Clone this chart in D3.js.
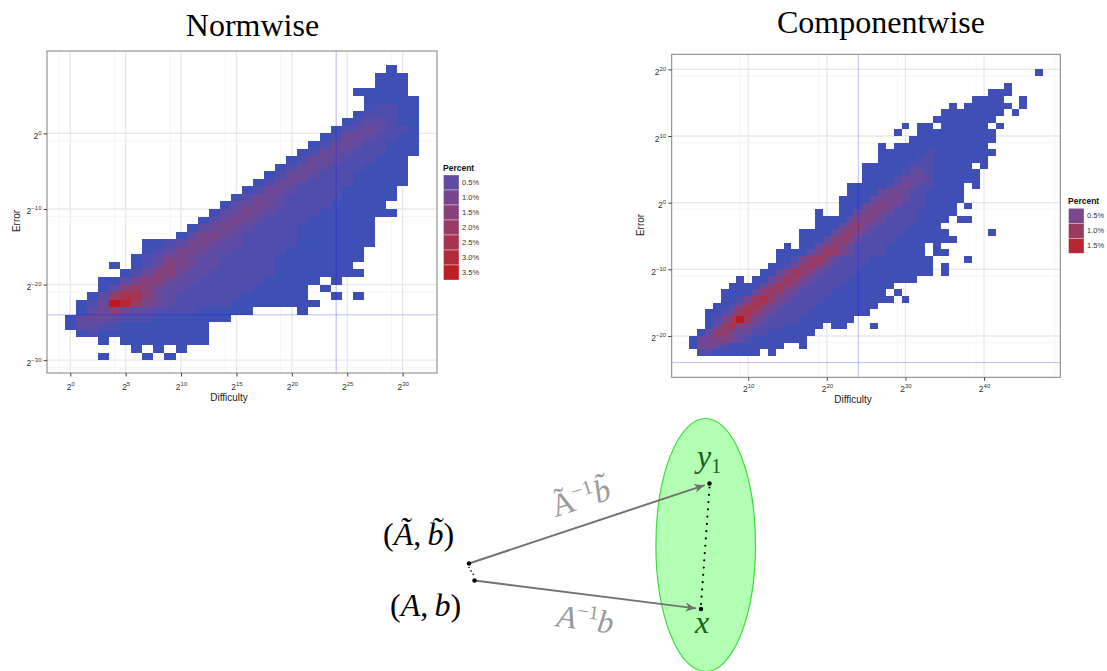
<!DOCTYPE html>
<html><head><meta charset="utf-8">
<script src="https://cdn.jsdelivr.net/npm/d3@7"></script>
<style>body{margin:0;background:#fff}svg{display:block}</style>
</head><body>
<svg id="c" width="1107" height="671"></svg>
<script>
// ---------- DATA (log2 units; each row: [y bin, first x bin, cell levels], '.' = empty) ----------
const normRows = [
 [8, 29, "0"],
 [7, 28, "000"],
 [6, 28, "000"],
 [5, 26, "00000"],
 [4, 27, "00000"],
 [3, 27, "01100"],
 [2, 26, "011100"],
 [1, 25, "0122100"],
 [0, 24, "01232110"],
 [-1, 23, "013321100"],
 [-2, 22, "0133211000"],
 [-3, 21, "01332111000"],
 [-4, 20, "01332111000"],
 [-5, 19, "013321110000"],
 [-6, 18, "0133211100000"],
 [-7, 17, "01332111100000"],
 [-8, 16, "01332111100000"],
 [-9, 15, "023321111100000"],
 [-10, 14, "023432111100000"],
 [-11, 13, "02343211110000000"],
 [-12, 12, "0234321111000000"],
 [-13, 11, "02343211110000000"],
 [-14, 10, "024432111110000000"],
 [-15, 7, "001244322111110000000"],
 [-16, 7, "01244322111110000000"],
 [-17, 6, "012443221111100000000"],
 [-18, 4, "0.01354322111110000000"],
 [-19, 5, "0135532211111100000000"],
 [-20, 3, "00245532211111100000.0"],
 [-21, 3, "0256532211111100000.0"],
 [-22, 2, "02677532111111000000..0.0"],
 [-23, 1, "0139864321111100000000"],
 [-24, 1, "0235322111100000....0"],
 [-25, 0, "023321110000000"],
 [-26, 0, "0221100000000"],
 [-27, 1, "010000000000"],
 [-28, 3, "0.00000000"],
 [-29, 6, "0.0.0"],
 [-30, 3, "0...0.0"]
];
const normLevelPct = [0.03, 0.22, 0.45, 0.7, 1.0, 1.4, 1.9, 2.5, 3.1, 3.7];
const normXTicks = [0, 5, 10, 15, 20, 25, 30];
const normYTicks = [0, -10, -20, -30];
const normXMinor = [-1, 4, 9, 14, 19, 24, 29];
const normYMinor = [-1, -11, -21, -31];
const normLegend = [0.5, 1.0, 1.5, 2.0, 2.5, 3.0, 3.5];

const compRows = [
 [19, 47, "0"],
 [17, 43, "0"],
 [16, 41, "000"],
 [15, 39, "0000..0"],
 [14, 36, "0.000000.0"],
 [13, 35, "00000000.0"],
 [12, 34, "00000000"],
 [11, 30, "0.00.000000.0"],
 [10, 29, "0..0000000000"],
 [9, 31, "00000000000"],
 [8, 27, "0.000000000000"],
 [7, 27, "000000100000000"],
 [6, 27, "00000110000000"],
 [5, 25, "00000011100000.0"],
 [4, 25, "000001221000000"],
 [3, 25, "000012221000000"],
 [2, 23, "000001232110000.0"],
 [1, 23, "000023321100000"],
 [0, 22, "0000233321100000"],
 [-1, 22, "000234321110000.0"],
 [-2, 19, "0..002343211100000"],
 [-3, 19, "00002443211110000.00"],
 [-4, 19, "0002453211110000"],
 [-5, 17, "0000245421111000000.....0"],
 [-6, 17, "00024542111100000000"],
 [-7, 15, "0.0024542111100000.0"],
 [-8, 14, "0000246532111100000.00"],
 [-9, 14, "00135642111100000000....0"],
 [-10, 13, "001356421111000000000.0"],
 [-11, 12, "0024653211110000000000.0"],
 [-12, 9, "0.002465321111000000000"],
 [-13, 8, "000024653211110000000"],
 [-14, 7, "000025653211110000000.0"],
 [-15, 7, "0013675321111000000000.0"],
 [-16, 6, "001367532111100000000"],
 [-17, 5, "001367532111100000000"],
 [-18, 5, "0136963211110000000"],
 [-19, 5, "026743211100000.00...0"],
 [-20, 4, "025532211000000"],
 [-21, 3, "023443210000000"],
 [-22, 3, "033210000000..0"],
 [-23, 4, "11000000.0"]
];
const compLevelPct = [0.02, 0.13, 0.28, 0.43, 0.6, 0.8, 1.0, 1.2, 1.45, 1.75];
const compXTicks = [10, 20, 30, 40];
const compYTicks = [20, 10, 0, -10, -20];
const compXMinor = [9, 19, 29, 39, 49];
const compYMinor = [19, 9, -1, -11, -21];
const compLegend = [0.5, 1.0, 1.5];

const refX = [24];
const refY = [-24];

// ---------- DRAWING ----------
const svg = d3.select("#c");
const LOW = "#3b4fb7", HIGH = "#c0171b";
const SANS = "'Liberation Sans', Arial, Helvetica, sans-serif";
const SERIF = "'Liberation Serif', 'Times New Roman', serif";

function expLabel(sel, d, base, sup) {
  sel.text(null);
  sel.append("tspan").attr("font-size", base).text("2");
  sel.append("tspan").attr("font-size", sup).attr("dy", -4).text(d < 0 ? "\u2212" + (-d) : String(d));
}

function drawPanel(o) {
  const g = svg.append("g");
  const x = d3.scaleLinear().domain(o.xDomain).range([o.left, o.right]);
  const y = d3.scaleLinear().domain(o.yDomain).range([o.bottom, o.top]);
  const color = d3.scaleLinear().domain([0, o.maxPct]).range([LOW, HIGH]).interpolate(d3.interpolateLab);

  g.append("rect").attr("x", o.left).attr("y", o.top)
    .attr("width", o.right - o.left).attr("height", o.bottom - o.top).attr("fill", "#fff");

  const grid = g.append("g");
  grid.selectAll(".vmin").data(o.xMinor).join("line").attr("class", "vmin")
    .attr("x1", d => x(d)).attr("x2", d => x(d)).attr("y1", o.top).attr("y2", o.bottom)
    .attr("stroke", "#f4f4f4").attr("stroke-width", 0.9);
  grid.selectAll(".hmin").data(o.yMinor).join("line").attr("class", "hmin")
    .attr("y1", d => y(d)).attr("y2", d => y(d)).attr("x1", o.left).attr("x2", o.right)
    .attr("stroke", "#f4f4f4").attr("stroke-width", 0.9);
  grid.selectAll(".vmaj").data(o.xTicks).join("line").attr("class", "vmaj")
    .attr("x1", d => x(d)).attr("x2", d => x(d)).attr("y1", o.top).attr("y2", o.bottom)
    .attr("stroke", "#e8e8e8").attr("stroke-width", 1.3);
  grid.selectAll(".hmaj").data(o.yTicks).join("line").attr("class", "hmaj")
    .attr("y1", d => y(d)).attr("y2", d => y(d)).attr("x1", o.left).attr("x2", o.right)
    .attr("stroke", "#e8e8e8").attr("stroke-width", 1.3);

  const cells = [];
  o.rows.forEach(([k, x0, s]) => {
    [...s].forEach((ch, i) => { if (ch !== ".") cells.push({ cx: x0 + i, cy: k, pct: o.levels[+ch] }); });
  });
  g.append("g").attr("shape-rendering", "crispEdges").selectAll("rect").data(cells).join("rect")
    .attr("x", d => x(d.cx - 0.5)).attr("y", d => y(d.cy + 1))
    .attr("width", d => x(d.cx + 0.5) - x(d.cx - 0.5))
    .attr("height", d => y(d.cy) - y(d.cy + 1))
    .attr("fill", d => color(d.pct));

  g.selectAll(".rv").data(refX).join("line").attr("class", "rv")
    .attr("x1", d => x(d)).attr("x2", d => x(d)).attr("y1", o.top).attr("y2", o.bottom)
    .attr("stroke", "#0000ff").attr("stroke-opacity", 0.25).attr("stroke-width", 1);
  g.selectAll(".rh").data(refY).join("line").attr("class", "rh")
    .attr("y1", d => y(d)).attr("y2", d => y(d)).attr("x1", o.left).attr("x2", o.right)
    .attr("stroke", "#0000ff").attr("stroke-opacity", 0.25).attr("stroke-width", 1);

  g.append("rect").attr("x", o.left).attr("y", o.top)
    .attr("width", o.right - o.left).attr("height", o.bottom - o.top)
    .attr("fill", "none").attr("stroke", "#808080").attr("stroke-width", 1);

  // axes
  const xa = g.append("g").attr("transform", `translate(0,${o.bottom})`)
    .call(d3.axisBottom(x).tickValues(o.xTicks).tickSizeInner(3.5).tickSizeOuter(0).tickFormat(() => ""));
  xa.select(".domain").remove();
  xa.selectAll(".tick line").attr("stroke", "#444");
  xa.selectAll(".tick text").attr("y", o.xLabelDy).attr("dy", 0)
    .attr("font-family", SANS).attr("fill", "#333").attr("text-anchor", "middle")
    .each(function (d) { expLabel(d3.select(this), d, 8.5, 6); });

  const ya = g.append("g").attr("transform", `translate(${o.left},0)`)
    .call(d3.axisLeft(y).tickValues(o.yTicks).tickSizeInner(3.5).tickSizeOuter(0).tickFormat(() => ""));
  ya.select(".domain").remove();
  ya.selectAll(".tick line").attr("stroke", "#444");
  ya.selectAll(".tick text").attr("x", -5.5).attr("dy", "0.5em")
    .attr("font-family", SANS).attr("fill", "#333").attr("text-anchor", "end")
    .each(function (d) { expLabel(d3.select(this), d, 8.5, 6); });

  g.append("text").attr("x", (o.left + o.right) / 2 + o.xTitleShift).attr("y", o.xTitleY)
    .attr("text-anchor", "middle").attr("font-family", SANS).attr("font-size", 10).attr("fill", "#222")
    .text("Difficulty");
  g.append("text").attr("transform", `translate(${o.yTitleX},${o.yTitleCY}) rotate(-90)`)
    .attr("text-anchor", "middle").attr("font-family", SANS).attr("font-size", 10).attr("fill", "#222")
    .text("Error");

  g.append("text").attr("x", (o.titleCX)).attr("y", o.titleY).attr("text-anchor", "middle")
    .attr("font-family", SERIF).attr("font-size", 32).attr("fill", "#000").text(o.title);

  // legend
  const lg = g.append("g");
  lg.append("text").attr("x", o.legX).attr("y", o.legTop - 4).attr("font-family", SANS)
    .attr("font-size", 8.5).attr("font-weight", "bold").attr("fill", "#111").text("Percent");
  const band = d3.scaleBand().domain(o.legend).range([o.legTop, o.legTop + 15 * o.legend.length]);
  lg.selectAll("rect").data(o.legend).join("rect")
    .attr("x", o.legX + 0.5).attr("y", d => band(d)).attr("width", 15.5).attr("height", band.bandwidth())
    .attr("fill", d => color(d)).attr("stroke", "#ffffff").attr("stroke-opacity", 0.6).attr("stroke-width", 0.6);
  lg.selectAll(".ll").data(o.legend).join("text").attr("class", "ll")
    .attr("x", o.legX + 19).attr("y", d => band(d) + band.bandwidth() / 2).attr("dy", "0.35em")
    .attr("font-family", SANS).attr("font-size", 7.5).attr("fill", "#333")
    .text(d => d3.format(".1f")(d) + "%");
}

drawPanel({
  rows: normRows, levels: normLevelPct, maxPct: 3.7,
  xDomain: [-2.1, 33.1], yDomain: [-31.7, 10.9],
  left: 47, right: 437, top: 51, bottom: 373,
  xTicks: normXTicks, yTicks: normYTicks, xMinor: normXMinor, yMinor: normYMinor,
  xLabelDy: 16.5, xTitleY: 401, xTitleShift: -13, yTitleX: 20, yTitleCY: 221,
  title: "Normwise", titleCX: 252.5, titleY: 36,
  legend: normLegend, legX: 443, legTop: 175
});
drawPanel({
  rows: compRows, levels: compLevelPct, maxPct: 1.75,
  xDomain: [0.26, 49.7], yDomain: [-26.2, 22.26],
  left: 671.7, right: 1060.3, top: 54.3, bottom: 377.3,
  xTicks: compXTicks, yTicks: compYTicks, xMinor: compXMinor, yMinor: compYMinor,
  xLabelDy: 15, xTitleY: 403, xTitleShift: -13, yTitleX: 644, yTitleCY: 225,
  title: "Componentwise", titleCX: 881, titleY: 33,
  legend: compLegend, legX: 1068, legTop: 208.3
});

// ---------- DIAGRAM ----------
const diagramPoints = [
  { id: "At", p: [469, 563.5] },
  { id: "A", p: [474.5, 580.5] },
  { id: "y1", p: [709.5, 483.5] },
  { id: "x", p: [701, 609] }
];
const P = Object.fromEntries(diagramPoints.map(d => [d.id, d.p]));
const dg = svg.append("g");
const defs = svg.append("defs");
defs.append("marker").attr("id", "arr").attr("viewBox", "0 0 10 10").attr("refX", 9.5).attr("refY", 5)
  .attr("markerWidth", 11).attr("markerHeight", 11).attr("markerUnits", "userSpaceOnUse").attr("orient", "auto")
  .append("path").attr("d", "M0,0.8 Q5,3.6 10,5 Q5,6.4 0,9.2 L2.5,5 Z").attr("fill", "#707070");

dg.append("ellipse").attr("cx", 705.7).attr("cy", 545).attr("rx", 49.8).attr("ry", 126.5)
  .attr("fill", "#b3ffb3").attr("stroke", "#3ddc3d").attr("stroke-width", 1.2);

function shorten(a, b, d) {
  const dx = b[0] - a[0], dy = b[1] - a[1], L = Math.hypot(dx, dy);
  return [b[0] - dx / L * d, b[1] - dy / L * d];
}
const arrows = [["At", "y1"], ["A", "x"]];
arrows.forEach(([a, b]) => {
  const e = shorten(P[a], P[b], 5);
  dg.append("line").attr("x1", P[a][0]).attr("y1", P[a][1]).attr("x2", e[0]).attr("y2", e[1])
    .attr("stroke", "#737373").attr("stroke-width", 2).attr("marker-end", "url(#arr)");
});
dg.append("line").attr("x1", P.y1[0]).attr("y1", P.y1[1] + 4).attr("x2", P.x[0]).attr("y2", P.x[1] - 4)
  .attr("stroke", "#000").attr("stroke-width", 2.2).attr("stroke-linecap", "round").attr("stroke-dasharray", "0,7.3");
dg.append("line").attr("x1", P.At[0]).attr("y1", P.At[1] + 4).attr("x2", P.A[0]).attr("y2", P.A[1] - 4)
  .attr("stroke", "#000").attr("stroke-width", 1.6).attr("stroke-linecap", "round").attr("stroke-dasharray", "0,4");
dg.selectAll("circle").data(diagramPoints).join("circle")
  .attr("cx", d => d.p[0]).attr("cy", d => d.p[1]).attr("r", 2.2).attr("fill", "#000");

// labels
const t1 = dg.append("text").attr("x", 383).attr("y", 545).attr("font-family", SERIF).attr("font-size", 32).attr("fill", "#000");
t1.append("tspan").text("(");
t1.append("tspan").attr("font-style", "italic").text("\u00C3");
t1.append("tspan").text(",\u2009");
t1.append("tspan").attr("font-style", "italic").text("b\u0303");
t1.append("tspan").text(")");

const t2 = dg.append("text").attr("x", 390).attr("y", 616).attr("font-family", SERIF).attr("font-size", 32).attr("fill", "#000");
t2.append("tspan").text("(");
t2.append("tspan").attr("font-style", "italic").text("A");
t2.append("tspan").text(",\u2009");
t2.append("tspan").attr("font-style", "italic").text("b");
t2.append("tspan").text(")");

const g1 = dg.append("text").attr("transform", "translate(584,508) rotate(-18)").attr("text-anchor", "middle")
  .attr("font-family", SERIF).attr("font-size", 32).attr("fill", "#9a9a9a");
g1.append("tspan").text("\u00C3");
g1.append("tspan").attr("font-size", 20).attr("dy", -12).text("\u22121");
g1.append("tspan").attr("font-style", "italic").attr("dy", 12).text("b\u0303");

const g2 = dg.append("text").attr("transform", "translate(584,630) rotate(7.5)").attr("text-anchor", "middle")
  .attr("font-family", SERIF).attr("font-size", 32).attr("fill", "#9a9a9a");
g2.append("tspan").attr("font-style", "italic").text("A");
g2.append("tspan").attr("font-size", 20).attr("dy", -12).text("\u22121");
g2.append("tspan").attr("font-style", "italic").attr("dy", 12).text("b");

const gy = dg.append("text").attr("x", 697).attr("y", 467).attr("font-family", SERIF).attr("font-size", 32).attr("fill", "#1b601b");
gy.append("tspan").attr("font-style", "italic").text("y");
gy.append("tspan").attr("font-size", 20).attr("dy", 6).text("1");
dg.append("text").attr("x", 695).attr("y", 633).attr("font-family", SERIF).attr("font-size", 32)
  .attr("font-style", "italic").attr("fill", "#1b601b").text("x");
</script>
</body></html>
